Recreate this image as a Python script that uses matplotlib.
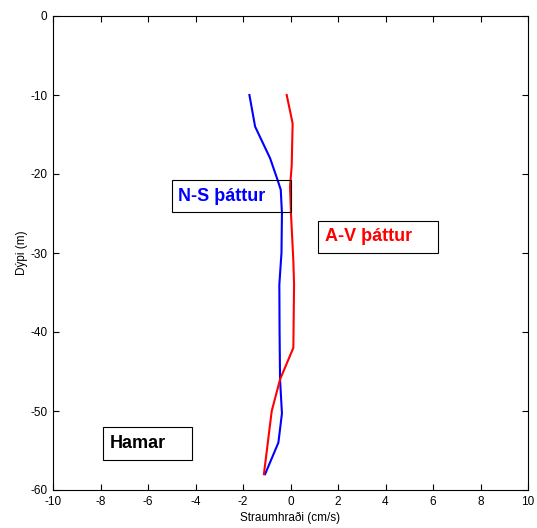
import matplotlib
matplotlib.use("Agg")
import matplotlib.pyplot as plt
from matplotlib.patches import Rectangle

# depth (m) and current components (cm/s)
depth_ns = [-10, -14, -18, -20.7, -22, -25, -30, -34, -40, -46, -50.3, -54, -58]
ns_comp = [-1.73, -1.49, -0.86, -0.55, -0.41, -0.36, -0.38, -0.47, -0.46, -0.44, -0.36, -0.51, -1.07]

depth_av = [-10, -13.6, -19, -21.6, -25, -31, -34, -42, -46, -50, -58]
av_comp = [-0.16, 0.09, 0.05, -0.02, 0.02, 0.12, 0.15, 0.12, -0.44, -0.79, -1.12]

xticks = list(range(-10, 11, 2))
yticks = list(range(-60, 1, 10))

plt.rcParams['font.family'] = ['Liberation Sans', 'DejaVu Sans']
plt.rcParams['axes.unicode_minus'] = False

fig = plt.figure(figsize=(5.37, 5.28), dpi=100)
ax = fig.add_axes([53 / 537, 1 - 490 / 528, 475 / 537, 474 / 528])

ax.plot(ns_comp, depth_ns, color=(0, 0, 1), lw=1.5)
ax.plot(av_comp, depth_av, color=(1, 0, 0), lw=1.5)

ax.set_xlim(-10, 10)
ax.set_ylim(-60, 0)
ax.set_xticks(xticks)
ax.set_yticks(yticks)
ax.tick_params(direction='in', top=True, right=True, length=4, width=0.8,
               labelsize=8.5, pad=4)
for s in ax.spines.values():
    s.set_linewidth(0.8)

ax.set_xlabel('Straumhraði (cm/s)', fontsize=8.5, labelpad=3)
ax.set_ylabel('Dýpi (m)', fontsize=8.5, labelpad=2)

# label boxes (edge only, like MATLAB text with EdgeColor)
boxes = [
    ((-4.99, -24.81), 5.01, 4.05, 'N-S þáttur', (0, 0, 1), -4.75),
    ((1.17, -30.0), 5.03, 4.1, 'A-V þáttur', (1, 0, 0), 1.45),
    ((-7.88, -56.2), 3.75, 4.2, 'Hamar', 'black', -7.6),
]
for (x0, y0), w, h, txt, col, tx in boxes:
    ax.add_patch(Rectangle((x0, y0), w, h, fill=False, edgecolor='black',
                           lw=0.8, zorder=3))
    ax.text(tx, y0 + h / 2, txt, color=col, fontsize=13, fontweight='bold',
            va='center', ha='left', zorder=4)

fig.savefig('out.png', dpi=100)
